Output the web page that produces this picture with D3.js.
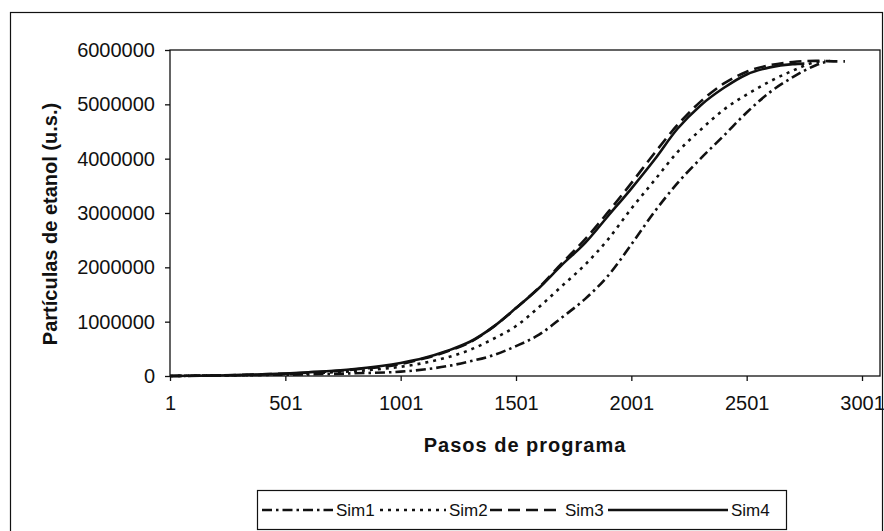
<!DOCTYPE html>
<html>
<head>
<meta charset="utf-8">
<script src="https://cdn.jsdelivr.net/npm/d3@7"></script>
<style>
  body { margin: 0; background: #fff; }
  svg { display: block; font-family: "Liberation Sans", Arial, sans-serif; }
</style>
</head>
<body>
<div id="chart"></div>
<script>
// values (particles, u.s.)
var seriesNames = ['Sim1', 'Sim2', 'Sim3', 'Sim4'];
var sim1Steps = [1, 201, 401, 601, 801, 1001, 1101, 1201, 1301, 1401, 1501, 1601, 1701, 1801, 1901, 2001, 2101, 2201, 2301, 2401, 2501, 2601, 2701, 2801, 2861];
var sim1 = [0, 10000, 20000, 30000, 50000, 80000, 120000, 180000, 270000, 380000, 550000, 760000, 1080000, 1420000, 1850000, 2420000, 3020000, 3550000, 4000000, 4420000, 4850000, 5220000, 5500000, 5720000, 5800000];
var sim2Steps = [1, 201, 401, 601, 801, 1001, 1101, 1201, 1301, 1401, 1501, 1601, 1701, 1801, 1901, 2001, 2101, 2201, 2301, 2401, 2501, 2601, 2701, 2801, 2841];
var sim2 = [0, 10000, 20000, 50000, 90000, 170000, 240000, 340000, 480000, 680000, 920000, 1270000, 1660000, 2050000, 2520000, 3080000, 3600000, 4120000, 4530000, 4900000, 5180000, 5420000, 5620000, 5780000, 5800000];
var sim3Steps = [1, 201, 401, 601, 801, 1001, 1101, 1201, 1301, 1401, 1501, 1601, 1701, 1801, 1901, 2001, 2101, 2201, 2301, 2401, 2501, 2601, 2701, 2801, 2901, 2927];
var sim3 = [0, 10000, 30000, 60000, 120000, 220000, 320000, 450000, 620000, 900000, 1250000, 1630000, 2080000, 2520000, 3020000, 3550000, 4100000, 4620000, 5050000, 5380000, 5600000, 5720000, 5780000, 5800000, 5790000, 5790000];
var sim4Steps = [1, 201, 401, 601, 801, 1001, 1101, 1201, 1301, 1401, 1501, 1601, 1701, 1801, 1901, 2001, 2101, 2201, 2301, 2401, 2501, 2601, 2701, 2751];
var sim4 = [0, 10000, 30000, 70000, 130000, 240000, 330000, 460000, 630000, 900000, 1250000, 1620000, 2050000, 2450000, 2950000, 3450000, 3980000, 4550000, 4980000, 5300000, 5550000, 5680000, 5740000, 5750000];
var xTicks = [1, 501, 1001, 1501, 2001, 2501, 3001];
var yTicks = [0, 1000000, 2000000, 3000000, 4000000, 5000000, 6000000];
var lastStep = 3079;

var WIDTH = 884, HEIGHT = 531;
var plot = { left: 170, right: 880, top: 50, bottom: 376 };
var dashes = ['10,4,2.5,4', '3,5', '12,6', null];
// legend sample layout (as drawn by the original sheet)
var legendStart = [262, 380, 490, 608];
var legendLen = [71, 66, 72, 120];

var svg = d3.select('#chart').append('svg')
  .attr('width', WIDTH)
  .attr('height', HEIGHT);

// outer chart border
svg.append('rect')
  .attr('x', 10.5).attr('y', 12.5)
  .attr('width', 872).attr('height', 530)
  .attr('fill', 'none').attr('stroke', '#111').attr('stroke-width', 1.2);

var x = d3.scaleLinear().domain([1, lastStep]).range([plot.left, plot.right]);
var y = d3.scaleLinear().domain([0, 6000000]).range([plot.bottom, plot.top]);

// plot area frame
svg.append('rect')
  .attr('x', plot.left).attr('y', plot.top)
  .attr('width', plot.right - plot.left).attr('height', plot.bottom - plot.top)
  .attr('fill', 'none').attr('stroke', '#111').attr('stroke-width', 1.3);

var yAxis = svg.append('g')
  .attr('transform', 'translate(' + plot.left + ',0)')
  .call(d3.axisLeft(y).tickValues(yTicks).tickSize(5).tickPadding(10).tickFormat(d3.format('d')));
var xAxis = svg.append('g')
  .attr('transform', 'translate(0,' + plot.bottom + ')')
  .call(d3.axisBottom(x).tickValues(xTicks).tickSize(5).tickPadding(15).tickFormat(d3.format('d')));

[xAxis, yAxis].forEach(function (g) {
  g.select('.domain').remove();
  g.selectAll('line').attr('stroke', '#111').attr('stroke-width', 1.3);
  g.selectAll('text')
    .attr('fill', '#111')
    .style('font-size', '20px')
    .style('font-family', '"Liberation Sans", Arial, sans-serif');
});

// axis titles
svg.append('text')
  .attr('transform', 'translate(57,224) rotate(-90)')
  .attr('text-anchor', 'middle')
  .style('font-size', '20px').style('font-weight', 'bold')
  .attr('fill', '#111')
  .text('Partículas de etanol (u.s.)');
svg.append('text')
  .attr('x', 525).attr('y', 452)
  .attr('text-anchor', 'middle')
  .style('font-size', '20px').style('font-weight', 'bold')
  .style('letter-spacing', '1px')
  .attr('fill', '#111')
  .text('Pasos de programa');

var series = [
  { name: seriesNames[0], steps: sim1Steps, values: sim1 },
  { name: seriesNames[1], steps: sim2Steps, values: sim2 },
  { name: seriesNames[2], steps: sim3Steps, values: sim3 },
  { name: seriesNames[3], steps: sim4Steps, values: sim4 }
];

var line = d3.line()
  .x(function (d) { return x(d[0]); })
  .y(function (d) { return y(d[1]); })
  .curve(d3.curveMonotoneX);

svg.append('g').selectAll('path')
  .data(series)
  .enter().append('path')
  .attr('d', function (d) { return line(d3.zip(d.steps, d.values)); })
  .attr('fill', 'none')
  .attr('stroke', '#111')
  .attr('stroke-width', 2.6)
  .attr('stroke-dasharray', function (d, i) { return dashes[i]; });

// legend
var legend = svg.append('g');
legend.append('rect')
  .attr('x', 257.5).attr('y', 490.5)
  .attr('width', 529).attr('height', 39)
  .attr('fill', '#fff').attr('stroke', '#111').attr('stroke-width', 1.2);

series.forEach(function (s, i) {
  var lx = legendStart[i];
  legend.append('line')
    .attr('x1', lx).attr('x2', lx + legendLen[i])
    .attr('y1', 510).attr('y2', 510)
    .attr('stroke', '#111').attr('stroke-width', 2.4)
    .attr('stroke-dasharray', dashes[i]);
  legend.append('text')
    .attr('x', lx + legendLen[i] + 3).attr('y', 516)
    .style('font-size', '17px')
    .attr('fill', '#111')
    .text(s.name);
});
</script>
</body>
</html>
